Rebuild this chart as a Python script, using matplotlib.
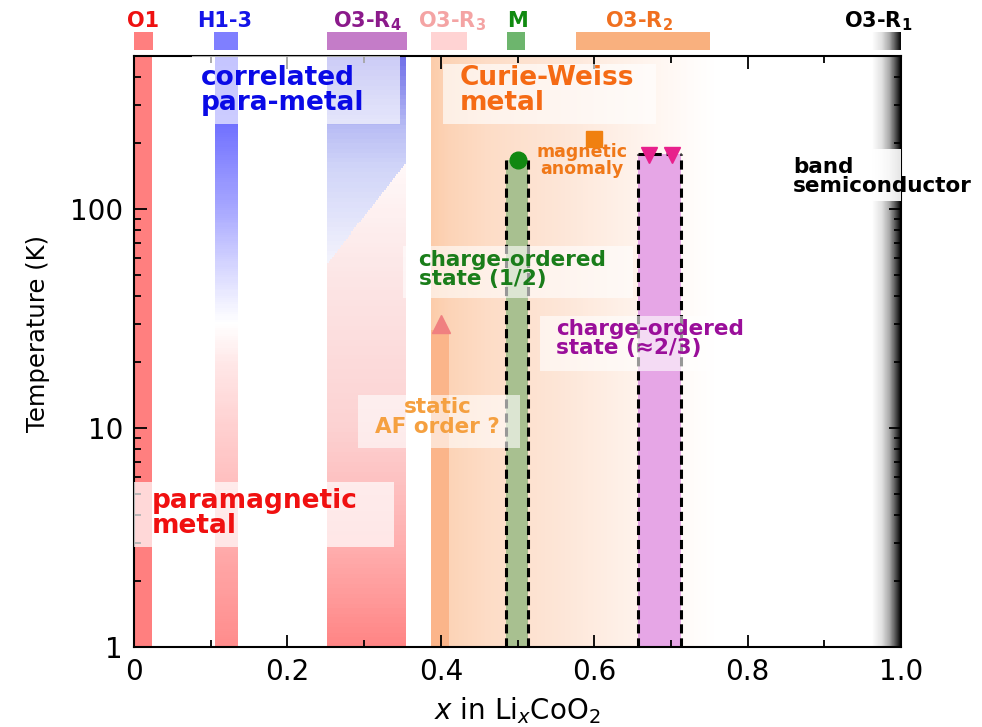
import numpy as np
import matplotlib
matplotlib.use("Agg")
import matplotlib.pyplot as plt
from matplotlib.colors import LinearSegmentedColormap
from matplotlib.patches import Rectangle
from matplotlib.ticker import FixedLocator, MultipleLocator, LogLocator, NullFormatter

plt.rcParams['font.family'] = ['DejaVu Sans']

T_LO, T_HI = 1, 500

# structural phases marked above the frame
phase_names = ["O1", "H1-3", "O3-R$_\\mathbf{4}$", "O3-R$_\\mathbf{3}$", "M",
               "O3-R$_\\mathbf{2}$", "O3-R$_\\mathbf{1}$"]
phase_x0 = [0.0, 0.104, 0.252, 0.387, 0.486, 0.576, 0.963]
phase_x1 = [0.025, 0.136, 0.356, 0.434, 0.510, 0.751, 1.0]
phase_label_x = [0.012, 0.118, 0.304, 0.415, 0.500, 0.658, 0.970]
phase_text_colors = ["#EE1111", "#1515E8", "#8B1A8B", "#F4A4A4", "#108A10", "#F07020", "black"]
phase_bar_colors = ["#FF7F7F", "#7F7FFF", "#C47CC8", "#FFD3D3", "#6DB56D", "#F9B07E", None]

# colour stops (log10 T or x, colour) for the shaded regions
h13_stops = [(0.0, "#FF8C8C"), (1.0, "#FFD0D0"), (1.3, "#FFE8E8"), (1.48, "#FFFFFF"),
             (1.75, "#D4D4FF"), (2.0, "#A8A8FF"), (2.4, "#7070FF"), (2.7, "#5A5AFF")]
r4_pink_stops = [(0.0, "#FF8585"), (0.4, "#FFAAAA"), (1.0, "#FCD2D2"), (1.7, "#FCE6E6"),
                 (2.2, "#FFF8F8"), (2.7, "#FFFFFF")]
r4_blue_stops = [(0.0, "#FFFFFF"), (1.75, "#F4F4FC"), (2.2, "#D0D4F8"), (2.39, "#B8BCF4"),
                 (2.7, "#7070E8")]
r4_boundary_x = [0.251, 0.355]
r4_boundary_T = [56, 162]
cw_stops = [(0.387, "#FCCCAA"), (0.41, "#FCD3B6"), (0.46, "#FDDCC6"), (0.55, "#FDE5D6"),
            (0.62, "#FEEEE4"), (0.70, "#FFF8F4"), (0.76, "#FFFFFF")]
r1_stops = [(0.962, "#FFFFFF"), (0.975, "#E0E0E0"), (0.985, "#A8A8A8"), (0.993, "#505050"),
            (1.0, "#000000")]

o1_span = (0.0, 0.024)
h13_span = (0.105, 0.135)
r4_span = (0.251, 0.355)

# ordered states and transitions
af_span, af_top = (0.387, 0.411), 28
af_x, af_T = 0.400, 30
co_half_span, co_half_T = (0.485, 0.514), 167
co_half_x = 0.500
co_23_span, co_23_top = (0.657, 0.713), 178
co_23_x = [0.671, 0.701]
co_23_T = [176, 176]
anomaly_x, anomaly_T = 0.599, 210

# region labels: text, x, top T, colour, size, linespacing, ha
labels = [
    ("correlated\npara-metal", 0.087, 455, "#0A0AE6", 19, 0.95, "left"),
    ("Curie-Weiss\nmetal", 0.425, 455, "#F56A14", 19, 0.95, "left"),
    ("band\nsemiconductor", 0.859, 173, "black", 15.5, 0.95, "left"),
    ("magnetic\nanomaly", 0.584, 200, "#F07818", 12.5, 0.95, "center"),
    ("charge-ordered\nstate (1/2)", 0.371, 65, "#1A7D1A", 15.5, 0.95, "left"),
    ("charge-ordered\nstate (\u22482/3)", 0.550, 31.5, "#9A0E9A", 15.5, 0.92, "left"),
    ("static\nAF order ?", 0.396, 13.8, "#F5A040", 15.5, 0.95, "center"),
    ("paramagnetic\nmetal", 0.0235, 5.3, "#F01010", 19, 0.92, "left"),
]
# translucent white panels behind the labels: x0, x1, T0, T1, alpha
panels = [
    (0.075, 0.347, 246, 600, 0.65),
    (0.403, 0.680, 246, 458, 0.65),
    (0.850, 1.000, 109, 188, 0.9),
    (0.351, 0.651, 39.3, 67.8, 0.6),
    (0.529, 0.816, 18.3, 32.6, 0.6),
    (0.292, 0.503, 8.15, 14.1, 0.6),
    (-0.01, 0.339, 2.86, 5.65, 0.7),
]

xtick_vals = [0, 0.2, 0.4, 0.6, 0.8, 1.0]
xtick_text = ["0", "0.2", "0.4", "0.6", "0.8", "1.0"]
ytick_vals = [1, 10, 100]
ytick_text = ["1", "10", "100"]


def make_cmap(stops):
    lo, hi = stops[0][0], stops[-1][0]
    return LinearSegmentedColormap.from_list(
        "c", [((p - lo) / (hi - lo), c) for p, c in stops]), lo, hi


def vertical_band(ax, span, stops, z=1):
    cmap, lo, hi = make_cmap(stops)
    ye = np.geomspace(T_LO, T_HI, 301)
    yc = np.log10(np.sqrt(ye[:-1] * ye[1:]))
    ax.pcolormesh(list(span), ye, yc[:, None], cmap=cmap, vmin=lo, vmax=hi,
                  shading="flat", zorder=z)


def horizontal_band(ax, stops, z=1, **kw):
    cmap, lo, hi = make_cmap(stops)
    xe = np.linspace(lo, hi, 201)
    xc = 0.5 * (xe[:-1] + xe[1:])
    y = kw.pop("y", [T_LO, T_HI])
    ax.pcolormesh(xe, y, xc[None, :], cmap=cmap, vmin=lo, vmax=hi,
                  shading="flat", zorder=z, **kw)


fig = plt.figure(figsize=(9.82, 7.27), dpi=100)
ax = fig.add_axes([0.1365, 0.1100, 0.7811, 0.8129])
ax.set_yscale("log")

# O1: plain paramagnetic strip
ax.axvspan(*o1_span, color="#FF7F7F", lw=0, zorder=1)
# H1-3: blue above, red below
vertical_band(ax, h13_span, h13_stops)

# O3-R4: blue above the slanted boundary, pink below
r4_all_stops = r4_pink_stops + [(3.0 + p, c) for p, c in r4_blue_stops]
cmap, lo, hi = make_cmap(r4_all_stops)
xe = np.linspace(*r4_span, 81)
ye = np.geomspace(T_LO, T_HI, 301)
xc = 0.5 * (xe[:-1] + xe[1:])
lyc = np.log10(np.sqrt(ye[:-1] * ye[1:]))
lb = np.interp(xc, r4_boundary_x, np.log10(r4_boundary_T))
val = lyc[:, None] + 3.0 * (lyc[:, None] > lb[None, :])
ax.pcolormesh(xe, ye, val, cmap=cmap, vmin=lo, vmax=hi, shading="flat", zorder=1)

# Curie-Weiss metal and band semiconductor backgrounds
horizontal_band(ax, cw_stops)
horizontal_band(ax, r1_stops)

# static AF order bar
ax.fill_between(af_span, T_LO, af_top, color="#FBB58A", lw=0, zorder=1.2)

# charge-ordered columns
ax.fill_between(co_half_span, T_LO, co_half_T, color="#A8C090", lw=0, zorder=1.2)
ax.fill_between(co_23_span, T_LO, co_23_top, color="#E6A6E6", lw=0, zorder=1.2)
dash = (0, (3, 1.6))
for xv in co_half_span:
    ax.plot([xv, xv], [T_LO, co_half_T], ls=dash, lw=2.2, color="black", zorder=2)
for xv in co_23_span:
    ax.plot([xv, xv], [T_LO, co_23_top], ls=dash, lw=2.2, color="black", zorder=2)
ax.plot(list(co_23_span), [co_23_top, co_23_top], ls=dash, lw=2.2, color="black", zorder=2)

# label panels and labels
for x0, x1, t0, t1, a in panels:
    ax.add_patch(Rectangle((x0, t0), x1 - x0, t1 - t0, facecolor="white",
                           edgecolor="none", alpha=a, zorder=3))
for text, xv, tv, col, fs, ls, ha in labels:
    ax.text(xv, tv, text, color=col, fontsize=fs, fontweight="bold", ha=ha, va="top",
            linespacing=ls, zorder=4, clip_on=False)

# transition markers
ax.plot(af_x, af_T, marker="^", ms=13, color="#F08080", ls="none", zorder=5)
ax.plot(co_half_x, co_half_T, marker="o", ms=12, color="#118811", ls="none", zorder=5)
ax.plot(co_23_x, co_23_T, marker="v", ms=12, color="#E8208C", ls="none", zorder=5)
ax.plot(anomaly_x, anomaly_T, marker="s", ms=11, color="#F08010", ls="none", zorder=5)

# phase bars and names above the frame
xt = ax.get_xaxis_transform()
for name, x0, x1, lx, tc, bc in zip(phase_names, phase_x0, phase_x1, phase_label_x,
                                    phase_text_colors, phase_bar_colors):
    if bc is None:
        horizontal_band(ax, r1_stops, y=[1.0102, 1.0406], transform=xt, clip_on=False)
    else:
        ax.add_patch(Rectangle((x0, 1.0102), x1 - x0, 0.0304, facecolor=bc, lw=0,
                               transform=xt, clip_on=False))
    ax.text(lx, 1.049, name, transform=xt, ha="center", va="baseline", color=tc,
            fontsize=15, fontweight="bold")

ax.set_xlim(0, 1)
ax.set_ylim(T_LO, T_HI)
ax.xaxis.set_major_locator(FixedLocator(xtick_vals))
ax.set_xticklabels(xtick_text)
ax.xaxis.set_minor_locator(MultipleLocator(0.1))
ax.yaxis.set_major_locator(FixedLocator(ytick_vals))
ax.set_yticklabels(ytick_text)
ax.yaxis.set_minor_locator(LogLocator(base=10, subs=np.arange(2, 10)))
ax.yaxis.set_minor_formatter(NullFormatter())
ax.tick_params(which="both", direction="in", top=True, right=True, labelsize=20,
               width=1.3, pad=8)
ax.tick_params(which="major", length=9)
ax.tick_params(which="minor", length=5)
for sp in ax.spines.values():
    sp.set_linewidth(1.5)

ax.set_xlabel("$x$ in Li$_x$CoO$_2$", fontsize=20)
ax.xaxis.set_label_coords(0.5, -0.082)
ax.set_ylabel("Temperature (K)", fontsize=17.5)
ax.yaxis.set_label_coords(-0.11, 0.531)

fig.savefig("out.png", dpi=100)
